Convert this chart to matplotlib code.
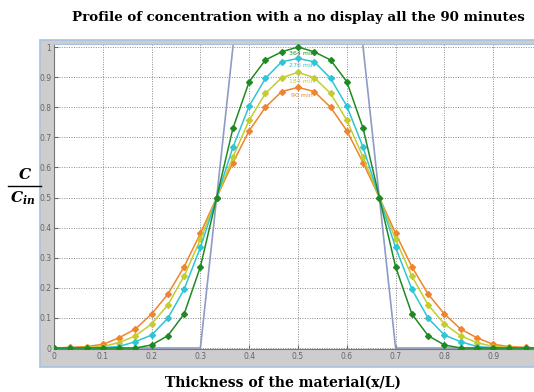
import numpy as np
import matplotlib
matplotlib.use("Agg")
import matplotlib.pyplot as plt
from matplotlib.patches import Rectangle
from matplotlib.lines import Line2D

plt.rcParams["mathtext.fontset"] = "custom"
plt.rcParams["mathtext.it"] = "DejaVu Serif:italic:bold"
plt.rcParams["mathtext.rm"] = "DejaVu Serif:bold"

# thickness grid x/L (31 nodes)
x_nodes = [i / 30 for i in range(31)]

# concentration profiles C/Cin
c_364 = [0, 0, 0, 0, 0, 0, 0.01, 0.041, 0.113, 0.27, 0.5, 0.73, 0.885, 0.957, 0.984, 1.0,
         0.984, 0.957, 0.885, 0.73, 0.5, 0.27, 0.113, 0.041, 0.01, 0, 0, 0, 0, 0, 0]
c_276 = [0, 0, 0, 0.001, 0.005, 0.021, 0.043, 0.099, 0.195, 0.334, 0.5, 0.667, 0.804, 0.896, 0.951, 0.962,
         0.951, 0.896, 0.804, 0.667, 0.5, 0.334, 0.195, 0.099, 0.043, 0.021, 0.005, 0.001, 0, 0, 0]
c_184 = [0, 0, 0.002, 0.005, 0.018, 0.04, 0.08, 0.143, 0.239, 0.361, 0.5, 0.634, 0.757, 0.846, 0.898, 0.916,
         0.898, 0.846, 0.757, 0.634, 0.5, 0.361, 0.239, 0.143, 0.08, 0.04, 0.018, 0.005, 0.002, 0, 0]
c_90 = [0, 0.002, 0.005, 0.012, 0.034, 0.063, 0.113, 0.179, 0.27, 0.381, 0.5, 0.616, 0.722, 0.8, 0.852, 0.866,
        0.852, 0.8, 0.722, 0.616, 0.5, 0.381, 0.27, 0.179, 0.113, 0.063, 0.034, 0.012, 0.005, 0.002, 0]

# initial step profile
x_init = [0, 0.3, 0.4, 0.6, 0.7, 1.0]
c_init = [0, 0, 1.5, 1.5, 0, 0]

series = [
    ("90 min", c_90, "#ef842c", 0.838),
    ("184 min", c_184, "#c4cc30", 0.885),
    ("276 min", c_276, "#30c4d4", 0.940),
    ("364 min", c_364, "#1f8a22", 0.977),
]

W, H = 534, 392
fig = plt.figure(figsize=(W / 100, H / 100), dpi=100)

# grey MATLAB-like panel behind the axes
fig.patches.append(Rectangle((40 / W, 1 - 367 / H), 1.0, (367 - 40) / H,
                             transform=fig.transFigure, facecolor="#cdcdcd",
                             edgecolor="#a9c1dd", linewidth=1.2, zorder=-5))

ax = fig.add_axes([54 / W, 1 - 349 / H, 488 / W, 305 / H])
ax.set_zorder(2)
ax.set_xlim(0, 1)
ax.set_ylim(-0.0033, 1.01)
ax.set_facecolor("white")

ax.plot(x_init, c_init, color="#8d9bc6", lw=1.2, zorder=2)
for label, vals, color, ylab in series:
    ax.plot(x_nodes, vals, color=color, lw=1.1, marker="D", ms=3, zorder=3)
    ax.text(0.507, ylab, label, color=color, fontsize=4.5, ha="center", va="center", zorder=4)

ax.set_xticks(np.arange(0, 1.0, 0.1))
ax.set_xticklabels(["0", "0.1", "0.2", "0.3", "0.4", "0.5", "0.6", "0.7", "0.8", "0.9"])
ax.set_yticks(np.arange(0, 1.01, 0.1))
ax.set_yticklabels(["0", "0.1", "0.2", "0.3", "0.4", "0.5", "0.6", "0.7", "0.8", "0.9", "1"])
ax.tick_params(direction="in", length=3, width=0.8, labelsize=5.5, colors="#666666",
               pad=2, top=False, right=False)
ax.grid(True, linestyle=(0, (1, 1.5)), color="#8a8a8a", linewidth=0.7)
for s in ["left", "bottom"]:
    ax.spines[s].set_color("#777777")
ax.spines["top"].set_color("#a9c1dd")
ax.spines["right"].set_visible(False)

fig.text(298 / W, 1 - 18 / H, "Profile of concentration with a no display all the 90 minutes",
         ha="center", va="center", fontsize=9.6, fontweight="bold", family="DejaVu Serif")
fig.text(283 / W, 1 - 383 / H, "Thickness of the material(x/L)",
         ha="center", va="center", fontsize=10, fontweight="bold", family="DejaVu Serif")

# y label as a fraction C / C_in
fig.text(25 / W, 1 - 175 / H, "C", ha="center", va="center", fontsize=11,
         fontweight="bold", style="italic", family="DejaVu Serif")
fig.add_artist(Line2D([8 / W, 41 / W], [1 - 186 / H, 1 - 186 / H], color="black", lw=1))
fig.text(23 / W, 1 - 198 / H, r"$C_{in}$", ha="center", va="center", fontsize=11)

fig.savefig("out.png", dpi=100)
